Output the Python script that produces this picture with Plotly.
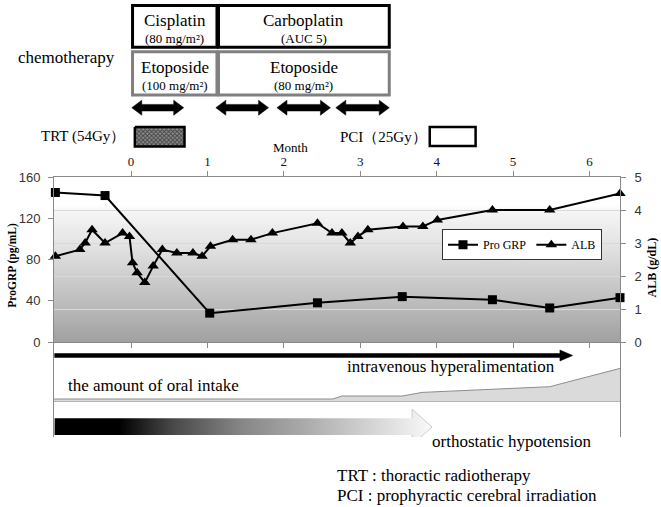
import plotly.graph_objects as go

# ---------------- data ----------------
grp_months = [-0.99, -0.34, 1.03, 2.44, 3.55, 4.73, 5.48, 6.40]
progrp = [145, 142, 28, 38, 44, 41, 33, 43]

alb_months = [-0.99, -0.67, -0.60, -0.51, -0.34, -0.11, -0.02, 0.02, 0.08, 0.18,
              0.29, 0.41, 0.60, 0.81, 0.93, 1.04, 1.33, 1.57, 1.85, 2.44,
              2.63, 2.76, 2.87, 2.97, 3.10, 3.56, 3.82, 4.01, 4.73, 5.48, 6.40]
alb = [2.6, 2.8, 3.0, 3.4, 3.0, 3.3, 3.2, 2.4, 2.1, 1.8,
       2.3, 2.8, 2.7, 2.7, 2.6, 2.9, 3.1, 3.1, 3.3, 3.6,
       3.3, 3.3, 3.0, 3.2, 3.4, 3.5, 3.5, 3.7, 4.0, 4.0, 4.5]

month_ticks = [0, 1, 2, 3, 4, 5, 6]
grp_ticks = [0, 40, 80, 120, 160]
alb_ticks = [0, 1, 2, 3, 4, 5]

platinum_names = ["Cisplatin", "Carboplatin"]
platinum_doses = ["(80 mg/m²)", "(AUC 5)"]
etoposide_names = ["Etoposide", "Etoposide"]
etoposide_doses = ["(100 mg/m²)", "(80 mg/m²)"]
regimen_start = [0.02, 1.145]
regimen_end = [1.125, 3.38]

cycle_start = [0.01, 1.11, 1.91, 2.68]
cycle_end = [0.69, 1.80, 2.61, 3.38]

trt_months = [0.05, 0.70]
pci_months = [3.91, 4.51]

ivh_months = [-1.0, 5.78]          # intravenous hyperalimentation
oh_months = [-1.0, 3.94]           # orthostatic hypotension

intake_months = [-1.008, 2.64, 2.76, 3.55, 3.81, 5.48, 6.40]
intake_level = [5, 5, 10, 10, 16, 25.5, 56]   # relative amount of oral intake

# ---------------- layout constants ----------------
W, H = 661, 507
X_RANGE = [-1.008, 6.40]
PLOT_L, PLOT_R = 54, 620
PX_PER_MONTH = (PLOT_R - PLOT_L) / (X_RANGE[1] - X_RANGE[0])
AX = "#8a8a8a"
SERIF = "'Liberation Serif', 'Times New Roman', Times, Tinos, 'DejaVu Serif', serif"
SANS = "'Liberation Sans', Arial, Helvetica, sans-serif"


def py(v):
    return 1 - v / H


def px(v):
    return (v - PLOT_L) / (PLOT_R - PLOT_L)


fig = go.Figure()

# main data
fig.add_trace(go.Scatter(x=grp_months, y=progrp, name="Pro GRP", mode="lines+markers",
                         line=dict(color="black", width=2),
                         marker=dict(symbol="square", size=9, color="black"),
                         cliponaxis=False, xaxis="x", yaxis="y"))
fig.add_trace(go.Scatter(x=alb_months, y=alb, name="ALB", mode="lines+markers",
                         line=dict(color="black", width=2),
                         marker=dict(symbol="triangle-up", size=10, color="black"),
                         cliponaxis=False, xaxis="x", yaxis="y2"))

# TRT hatched box (top band, y3 in pixel rows)
t0, t1 = trt_months
fig.add_trace(go.Scatter(x=[t0, t1, t1, t0, t0], y=[127, 127, 146.5, 146.5, 127],
                         mode="lines", fill="toself",
                         fillpattern=dict(shape="x", fgcolor="#000000", bgcolor="#8c8c8c",
                                          size=3, solidity=0.55),
                         line=dict(color="black", width=2.5),
                         showlegend=False, hoverinfo="skip", xaxis="x", yaxis="y3"))

# oral intake area
fig.add_trace(go.Scatter(x=intake_months, y=intake_level, mode="lines", fill="tozeroy",
                         fillcolor="#dadada", line=dict(color="#8c8c8c", width=1),
                         showlegend=False, hoverinfo="skip", xaxis="x", yaxis="y5"))

# orthostatic hypotension gradient arrow
s, e = oh_months
hs = e - 20 / PX_PER_MONTH
fig.add_trace(go.Scatter(x=[s, hs, hs, e, hs, hs, s, s],
                         y=[418.3, 418.3, 409, 427, 445, 435, 435, 418.3],
                         mode="lines", fill="toself", line=dict(width=0, color="rgba(0,0,0,0)"),
                         fillgradient=dict(type="horizontal", start=s, stop=e,
                                           colorscale=[[0, "#000000"], [0.17, "#000000"],
                                                       [0.31, "#474747"], [0.49, "#858585"],
                                                       [0.67, "#acacac"], [0.76, "#c2c2c2"],
                                                       [0.945, "#ececec"], [1, "#fafafa"]]),
                         showlegend=False, hoverinfo="skip", xaxis="x", yaxis="y4"))
fig.add_trace(go.Scatter(x=[hs, hs, e, hs, hs], y=[418.3, 409, 427, 445, 435],
                         mode="lines", line=dict(color="#cccccc", width=1),
                         showlegend=False, hoverinfo="skip", xaxis="x", yaxis="y4"))

shapes = []

# gradient background of main plot
N = 110
stops = [(0, 160), (0.2, 184), (0.4, 207), (0.6, 228), (0.78, 244), (0.83, 255), (1, 255)]


def gcol(t):
    for (a, ca), (b, cb) in zip(stops[:-1], stops[1:]):
        if a <= t <= b:
            return int(round(ca + (cb - ca) * (t - a) / (b - a)))
    return 255


for i in range(N):
    c = gcol((i + 0.5) / N)
    shapes.append(dict(type="rect", xref="x domain", yref="y domain", x0=0, x1=1,
                       y0=i / N, y1=(i + 1) / N + 0.003, fillcolor=f"rgb({c},{c},{c})",
                       line=dict(width=0), layer="below"))

# chemo boxes
for a, b in zip(regimen_start, regimen_end):
    shapes.append(dict(type="rect", xref="x", yref="y3", x0=a, x1=b, y0=5.5, y1=47.3,
                       line=dict(color="black", width=3), fillcolor="white"))
    shapes.append(dict(type="rect", xref="x", yref="y3", x0=a, x1=b, y0=51.7, y1=95,
                       line=dict(color="#808080", width=3), fillcolor="white"))


def path(pts):
    return "M " + " L ".join(f"{x:.4f},{y:.3f}" for x, y in pts) + " Z"


# cycle double arrows
hl = 10 / PX_PER_MONTH
yc, sh, hh = 107.7, 3.3, 7.5
for a, b in zip(cycle_start, cycle_end):
    pts = [(a, yc), (a + hl, yc - hh), (a + hl, yc - sh), (b - hl, yc - sh), (b - hl, yc - hh),
           (b, yc), (b - hl, yc + hh), (b - hl, yc + sh), (a + hl, yc + sh), (a + hl, yc + hh)]
    shapes.append(dict(type="path", xref="x", yref="y3", path=path(pts),
                       fillcolor="black", line=dict(color="black", width=0.5)))

# PCI box
shapes.append(dict(type="rect", xref="x", yref="y3", x0=pci_months[0], x1=pci_months[1],
                   y0=127, y1=146, line=dict(color="black", width=2.5), fillcolor="white"))

# intravenous hyperalimentation arrow
a, b = ivh_months
hl2 = 12.7 / PX_PER_MONTH
yc2 = 355.5
pts = [(a, yc2 - 2), (b - hl2, yc2 - 2), (b - hl2, yc2 - 5.5), (b, yc2),
       (b - hl2, yc2 + 5.5), (b - hl2, yc2 + 2), (a, yc2 + 2)]
shapes.append(dict(type="path", xref="x", yref="y4", path=path(pts),
                   fillcolor="black", line=dict(color="black", width=0.5)))

# intake baseline
shapes.append(dict(type="line", xref="x domain", yref="y5", x0=0, x1=1, y0=0, y1=0,
                   line=dict(color="#8c8c8c", width=1)))

ann = []


def text(t, x, y, size, xref="paper", yref="paper", xanchor="center", **kw):
    ann.append(dict(text=t, x=x, y=y, xref=xref, yref=yref, xanchor=xanchor, yanchor="middle",
                    showarrow=False, font=dict(family=SERIF, size=size, color="black"), **kw))


text("chemotherapy", px(116.7), py(57.3), 17, xanchor="right")
for i in range(len(regimen_start)):
    mid = (regimen_start[i] + regimen_end[i]) / 2
    text(platinum_names[i], mid, 20.5, 17, xref="x", yref="y3")
    text(platinum_doses[i], mid, 38, 13, xref="x", yref="y3")
    text(etoposide_names[i], mid, 67, 17, xref="x", yref="y3")
    text(etoposide_doses[i], mid, 85, 13, xref="x", yref="y3")
text("TRT (54Gy）", px(127), py(136.7), 15, xanchor="right")
text("PCI（25Gy）", px(429), py(136.7), 15, xanchor="right")
text("Month", px(290.7), py(147.7), 13)

text("<b>ProGRP (pg/mL)</b>", px(11.7), py(265), 11.5, textangle=-90)
text("<b>ALB (g/dL)</b>", px(651), py(267.5), 12, textangle=-90)

text("intravenous hyperalimentation", px(345), py(366.7), 17, xanchor="left")
text("the amount of oral intake", px(66), py(385.7), 17, xanchor="left")
text("orthostatic hypotension", px(430), py(441.7), 17, xanchor="left")
text("TRT : thoractic radiotherapy", px(335), py(475), 17, xanchor="left")
text("PCI : prophyractic cerebral irradiation", px(335), py(495), 17, xanchor="left")

main_dom = [py(342), py(177)]

fig.update_layout(
    width=W, height=H,
    margin=dict(l=PLOT_L, r=W - PLOT_R, t=0, b=0, autoexpand=False),
    paper_bgcolor="white", plot_bgcolor="rgba(0,0,0,0)",
    showlegend=True,
    legend=dict(orientation="h", x=px(602), xanchor="right", y=py(229.3), yanchor="top",
                bgcolor="white", bordercolor="#333333", borderwidth=1,
                font=dict(family=SERIF, size=12, color="black"), itemwidth=30,
                tracegroupgap=0),
    xaxis=dict(domain=[0, 1], range=X_RANGE, side="top", anchor="y",
               tickmode="array", tickvals=month_ticks, ticktext=[str(m) for m in month_ticks],
               ticks="outside", ticklen=5, tickcolor=AX, showline=True, linecolor=AX,
               mirror="ticks", showgrid=False, zeroline=False, automargin=False,
               tickfont=dict(family=SERIF, size=13, color="#111111")),
    yaxis=dict(domain=main_dom, range=[0, 160], tickmode="array", tickvals=grp_ticks,
               ticks="outside", ticklen=5, tickcolor=AX, showline=True, linecolor=AX,
               showgrid=False, zeroline=False, anchor="x", ticklabelstandoff=5,
               automargin=False, tickfont=dict(family=SANS, size=13, color="#333333")),
    yaxis2=dict(overlaying="y", side="right", range=[0, 5], tickmode="array", tickvals=alb_ticks,
                ticks="outside", ticklen=5, tickcolor=AX, showline=True, linecolor=AX,
                showgrid=True, gridcolor="#d9d9d9", zeroline=False, anchor="x",
                automargin=False, ticklabelstandoff=6,
                tickfont=dict(family=SANS, size=13, color="#333333")),
    yaxis3=dict(domain=[py(170), 1], range=[170, 0], visible=False, anchor="x",
                automargin=False),
    yaxis4=dict(domain=[py(437), py(342)], range=[437, 342], showline=True, mirror=True,
                linecolor=AX, showticklabels=False, ticks="", showgrid=False, zeroline=False,
                anchor="x", automargin=False),
    yaxis5=dict(domain=[py(402), py(342)], range=[0, 100], visible=False, anchor="x",
                automargin=False),
    shapes=shapes, annotations=ann,
)

fig.write_html("out.html",
               config={"displayModeBar": False, "staticPlot": False},
               post_script="document.body.style.margin='0px';"
                           "document.body.style.padding='0px';"
                           "document.body.style.overflow='hidden';")
